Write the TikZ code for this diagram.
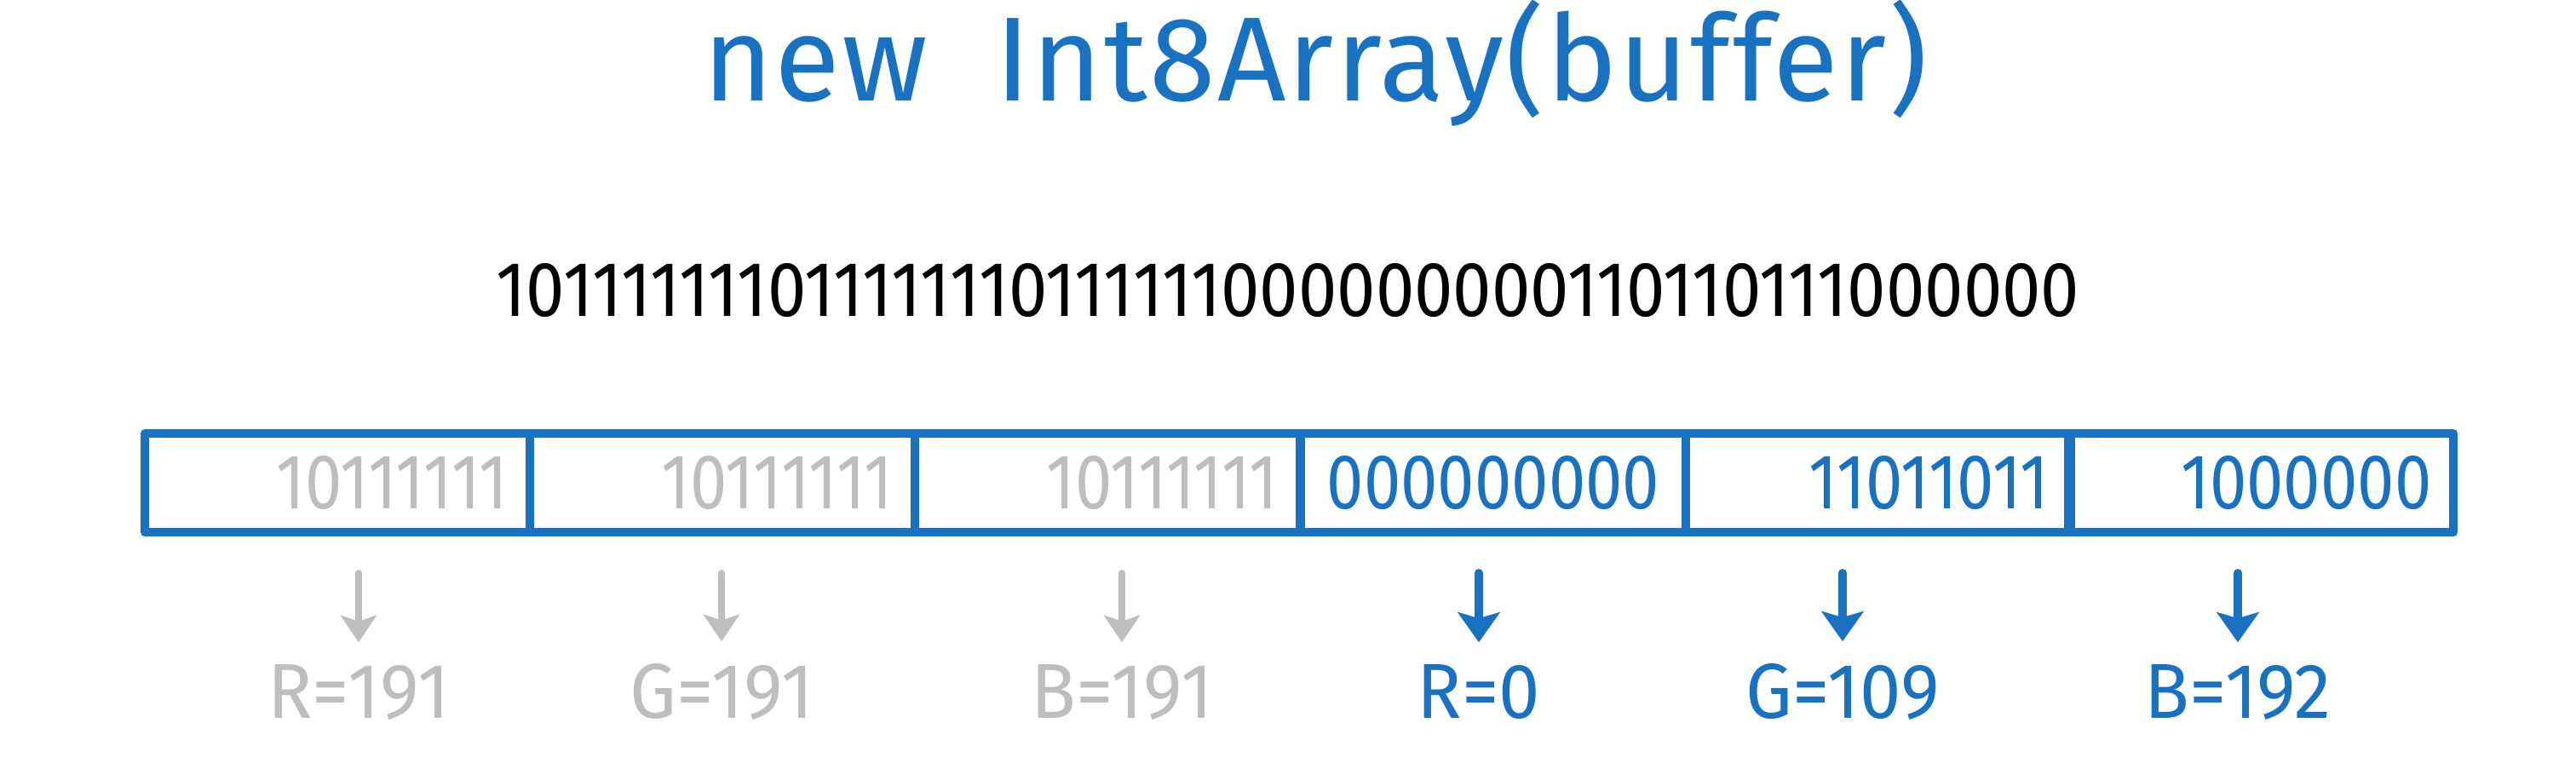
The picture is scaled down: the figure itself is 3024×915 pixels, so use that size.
\documentclass[tikz,border=0pt]{standalone}
\usepackage{fontspec}
\setmainfont{Fira Sans}
\newfontfamily\handfont{Fira Sans}[Numbers={Proportional,Lining},FakeStretch=0.85]
\newfontfamily\streamfont{Fira Sans}[Numbers={Proportional,Lining},FakeStretch=0.89]
\newfontfamily\valfont{Fira Sans}[Numbers={Proportional,Lining},FakeStretch=0.95]
\newfontfamily\titlefont{Fira Sans}[LetterSpace=1.5]
\usetikzlibrary{arrows.meta}
\definecolor{exblue}{RGB}{25,113,194}
\definecolor{exgrey}{RGB}{190,190,190}
\tikzset{
  cell/.style={draw=exblue, line width=2.8pt, minimum width=4.52cm, minimum height=1.16cm, inner sep=0pt},
  bits/.style={font=\handfont\fontsize{26}{30}\selectfont, inner sep=0pt, anchor=base east},
  val/.style={font=\valfont\fontsize{26}{30}\selectfont, inner sep=0pt, anchor=base},
  greyarrow/.style={draw=exgrey, line width=2.2pt, -{Stealth[length=9pt,width=12pt,inset=2pt]}, shorten <=0.43cm, shorten >=0.25cm},
  bluearrow/.style={draw=exblue, line width=2.8pt, -{Stealth[length=10pt,width=14pt,inset=2pt]}, shorten <=0.43cm, shorten >=0.25cm},
}
\begin{document}
\begin{tikzpicture}[x=0.01cm, y=-0.01cm, line join=round, line cap=round]
  \useasboundingbox (0,0) rectangle (3024,915);

  \node[font=\titlefont\fontsize{40}{46}\selectfont, text=exblue, inner sep=0pt, anchor=base] (title) at (1544,118) {new\ \ Int8Array(buffer)};
  \node[font=\streamfont\fontsize{26}{30}\selectfont, inner sep=0pt, anchor=base] (stream) at (1512,371) {101111111011111110111111000000000110110111000000};

  \node[cell] (b1) at (396,567) {};
  \node[cell] (b2) at (848,567) {};
  \node[cell] (b3) at (1300,567) {};
  \node[cell] (b4) at (1753,567) {};
  \node[cell] (b5) at (2205,567) {};
  \node[cell] (b6) at (2654,567) {};

  \node[bits, text=exgrey] (t1) at ([xshift=-0.3cm, yshift=-0.3cm]b1.east) {10111111};
  \node[bits, text=exgrey] (t2) at ([xshift=-0.3cm, yshift=-0.3cm]b2.east) {10111111};
  \node[bits, text=exgrey] (t3) at ([xshift=-0.3cm, yshift=-0.3cm]b3.east) {10111111};
  \node[bits, text=exblue, anchor=base] (t4) at ([yshift=-0.3cm]b4.center) {000000000};
  \node[bits, text=exblue] (t5) at ([xshift=-0.3cm, yshift=-0.3cm]b5.east) {11011011};
  \node[bits, text=exblue] (t6) at ([xshift=-0.3cm, yshift=-0.3cm]b6.east) {1000000};

  \node[val, text=exgrey] (l1) at (421,843) {R=191};
  \node[val, text=exgrey] (l2) at (847,843) {G=191};
  \node[val, text=exgrey] (l3) at (1317,843) {B=191};
  \node[val, text=exblue] (l4) at (1736,843) {R=0};
  \node[val, text=exblue] (l5) at (2163,843) {G=109};
  \node[val, text=exblue] (l6) at (2627,843) {B=192};

  \draw[greyarrow] (l1.north |- b1.south) -- (l1.north);
  \draw[greyarrow] (l2.north |- b2.south) -- (l2.north);
  \draw[greyarrow] (l3.north |- b3.south) -- (l3.north);
  \draw[bluearrow] (l4.north |- b4.south) -- (l4.north);
  \draw[bluearrow] (l5.north |- b5.south) -- (l5.north);
  \draw[bluearrow] (l6.north |- b6.south) -- (l6.north);
\end{tikzpicture}
\end{document}
